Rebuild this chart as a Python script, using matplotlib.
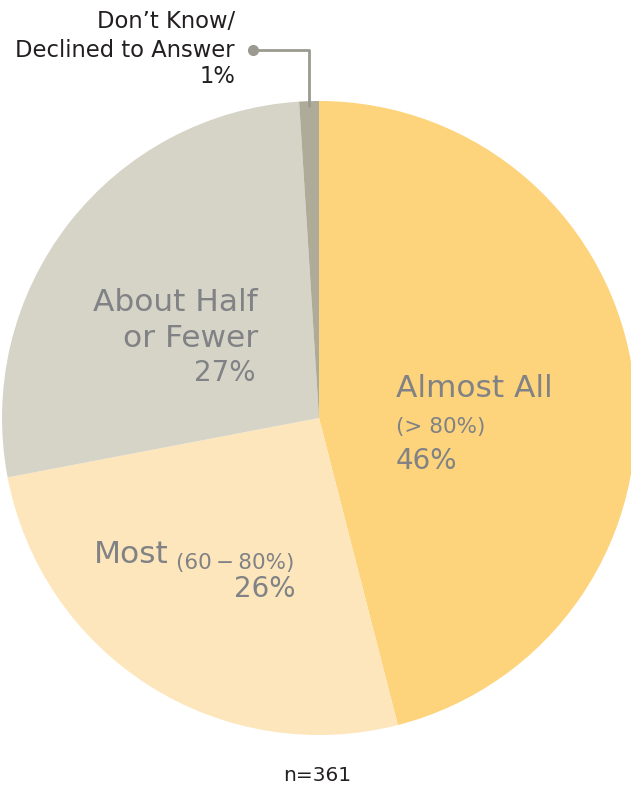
import numpy as np
import matplotlib.pyplot as plt

plt.rcParams['font.family'] = ['DejaVu Sans']

# data
categories = ['Almost All', 'Most', 'About Half or Fewer', "Don\u2019t Know/Declined to Answer"]
shares = [46, 26, 27, 1]
colors = ['#fdd37b', '#fde6bb', '#d6d4c7', '#aeac99']
n_total = 361

W, H = 631, 787
fig = plt.figure(figsize=(W / 100, H / 100), dpi=100)
ax = fig.add_axes([0, 0, 1, 1])

cx, cy, r = 319, 418, 317  # pixel layout, y measured from top


def py(y):
    return H - y


ax.pie(shares, colors=colors, startangle=90, counterclock=False,
       center=(cx, py(cy)), radius=r, frame=True,
       wedgeprops=dict(linewidth=0))
ax.set_xlim(0, W)
ax.set_ylim(0, H)
ax.axis('off')

lab = '#808285'
big, small, pct = 22.5, 15.5, 20
# Almost All
ax.text(396, py(397), 'Almost All', fontsize=big, color=lab, ha='left', va='baseline')
ax.text(396, py(433), '(> 80%)', fontsize=small, color=lab, ha='left', va='baseline')
ax.text(396, py(469), f'{shares[0]}%', fontsize=pct, color=lab, ha='left', va='baseline')

# About Half or Fewer
ax.text(258, py(311), 'About Half', fontsize=big, color=lab, ha='right', va='baseline')
ax.text(258, py(347), 'or Fewer', fontsize=big, color=lab, ha='right', va='baseline')
ax.text(256, py(381), f'{shares[2]}%', fontsize=pct, color=lab, ha='right', va='baseline')

# Most
t = ax.text(94, py(563), 'Most', fontsize=big, color=lab, ha='left', va='baseline')
ax.annotate('(60\u2009\u2212\u200980%)', xy=(1, 0), xycoords=t, xytext=(5, 0),
            textcoords='offset points', fontsize=small, color=lab,
            ha='left', va='baseline')
ax.text(296, py(597), f'{shares[1]}%', fontsize=pct, color=lab, ha='right', va='baseline')

# Don't know leader
mid = 90 - 360 * (sum(shares[:3]) + shares[3] / 2) / 100
lx = cx + r * np.cos(np.radians(mid))
lc = '#9a9a90'
ax.plot([253, lx, lx], [py(50), py(50), py(107)], color=lc, lw=2, solid_capstyle='butt')
ax.plot([253], [py(50)], 'o', color=lc, ms=7)
dark = '#231f20'
top = 16.3
ax.text(235, py(28), 'Don\u2019t Know/', fontsize=top, color=dark, ha='right', va='baseline')
ax.text(235, py(57), 'Declined to Answer', fontsize=top, color=dark, ha='right', va='baseline')
ax.text(235, py(83), f'{shares[3]}%', fontsize=top, color=dark, ha='right', va='baseline')

ax.text(317, py(781), f'n={n_total}', fontsize=14.5, color=dark, ha='center', va='baseline')

fig.savefig('out.png', dpi=100)
